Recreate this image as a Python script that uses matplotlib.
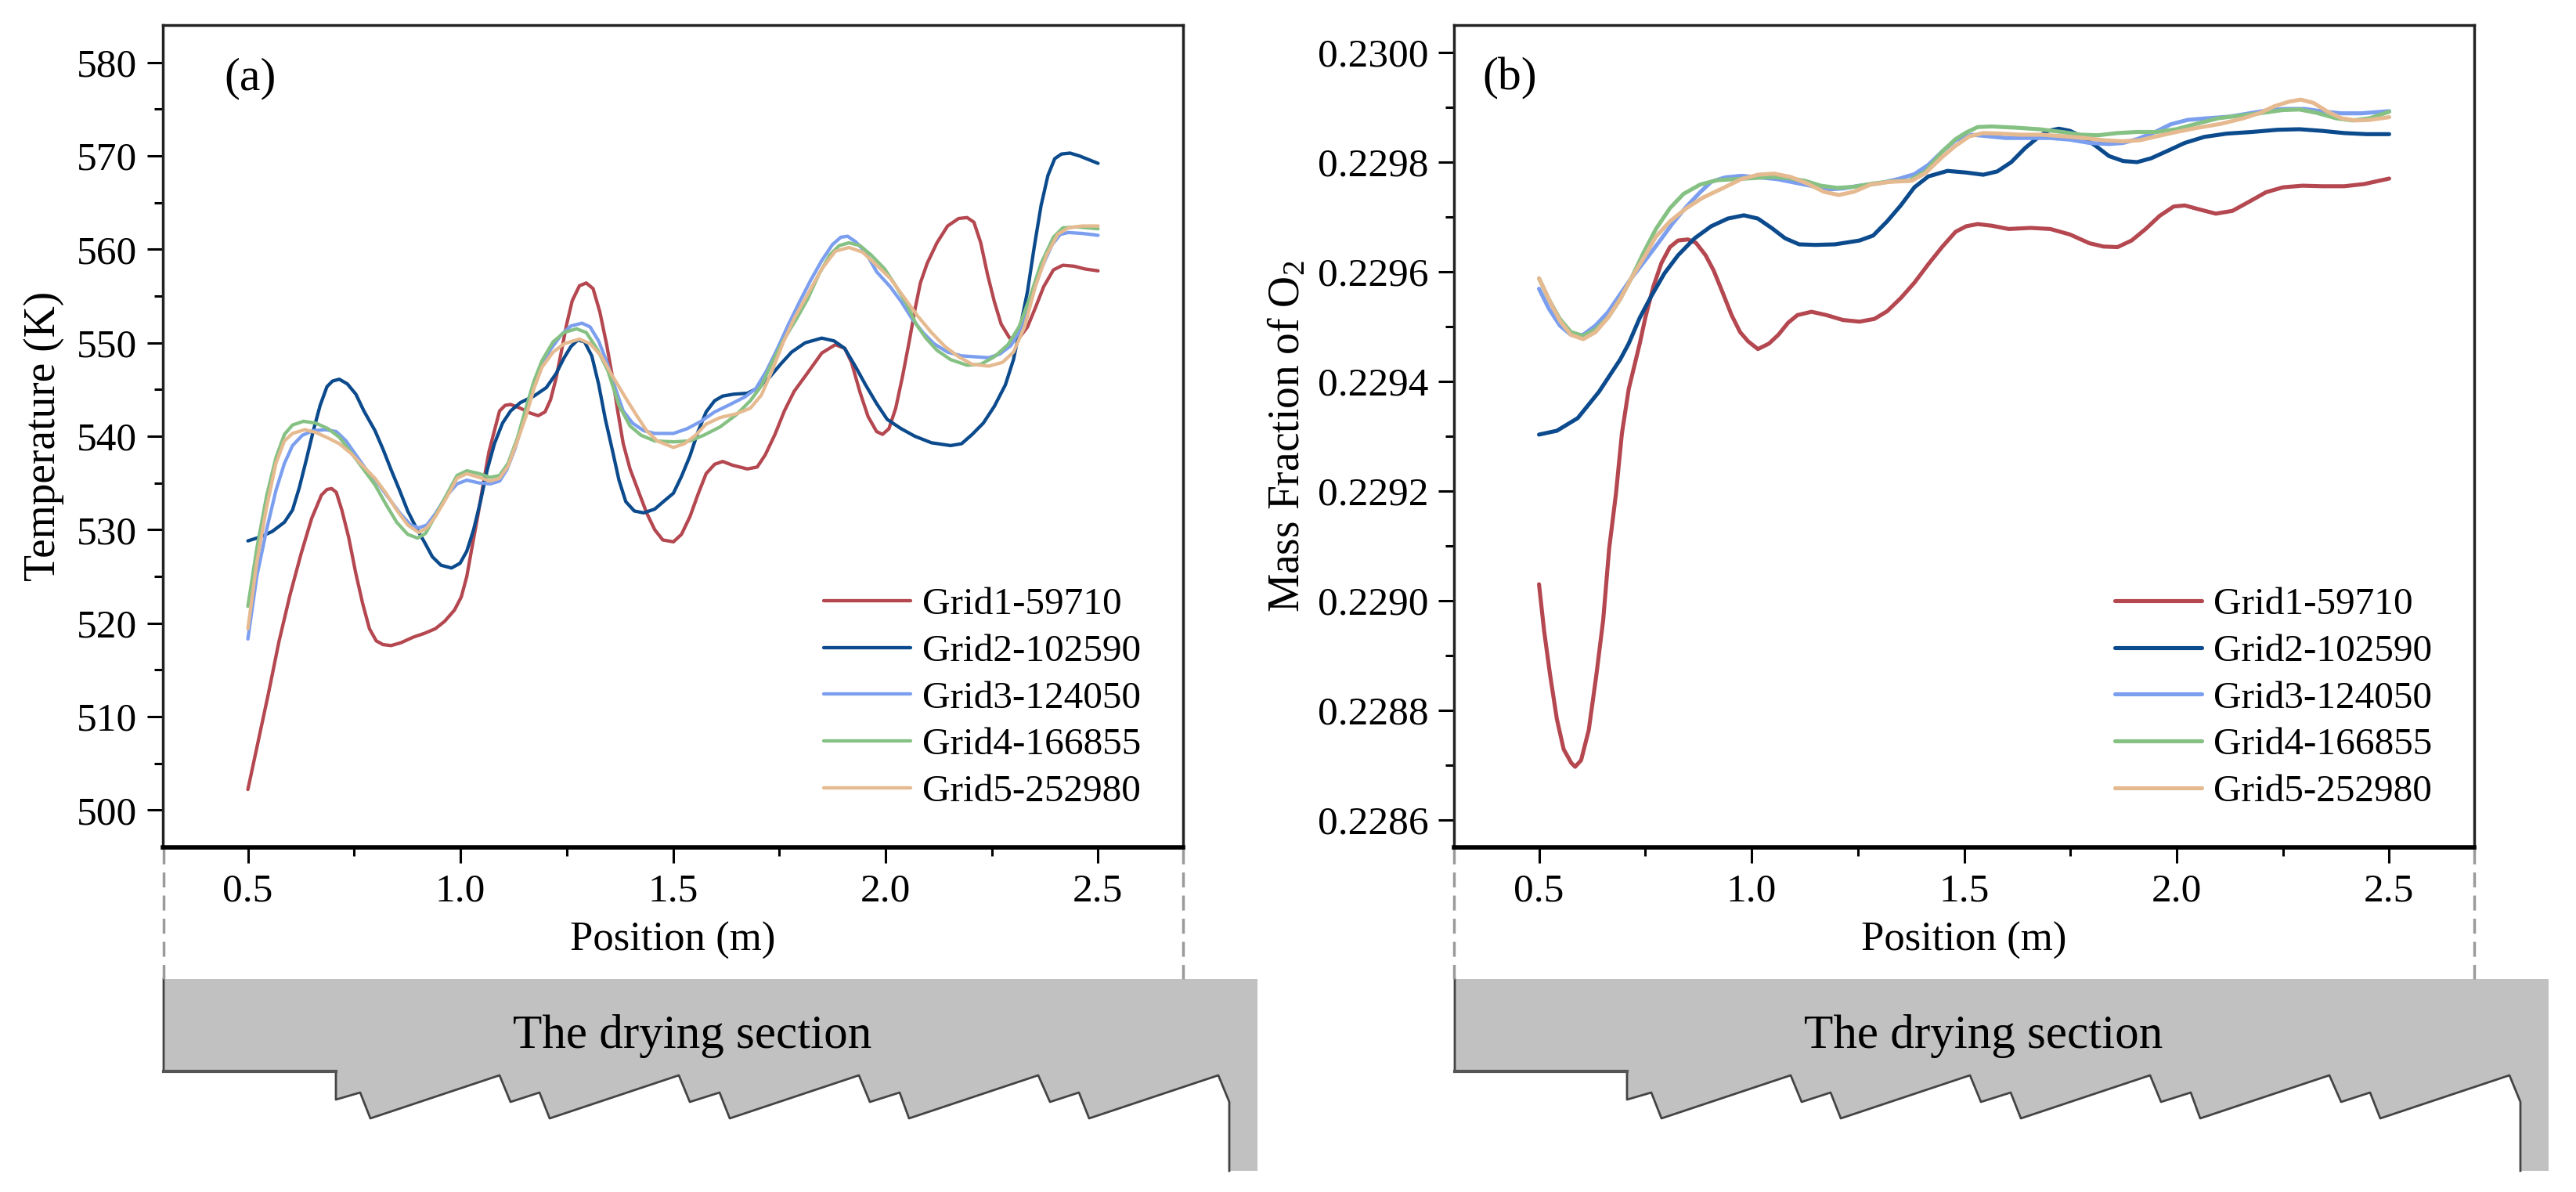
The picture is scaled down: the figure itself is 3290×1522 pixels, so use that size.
import matplotlib
matplotlib.use('Agg')
import matplotlib.pyplot as plt
from matplotlib.patches import Polygon
from matplotlib.ticker import MultipleLocator

plt.rcParams['font.family'] = ['Liberation Serif', 'DejaVu Serif']
plt.rcParams['mathtext.fontset'] = 'custom'
plt.rcParams['mathtext.rm'] = 'Liberation Serif'
plt.rcParams['mathtext.default'] = 'regular'

W, H = 3290, 1522

labels = ['Grid1-59710', 'Grid2-102590', 'Grid3-124050', 'Grid4-166855', 'Grid5-252980']
colors = ['#B4474F', '#0B4A8C', '#7B9EEF', '#86C184', '#E6BA90']

# (a) temperature
x_a1 = [.5, .524, .548, .573, .599, .625, .65, .673, .686, .697, .708, .721, .737, .754, .77, .786, .802, .818, .837, .86, .889, .915, .941, .963, .986, 1.002, 1.015, 1.028, 1.041, 1.054, 1.067, 1.08, 1.092, 1.105, 1.118, 1.141, 1.163, 1.183, 1.199, 1.212, 1.225, 1.238, 1.25, 1.263, 1.28, 1.296, 1.312, 1.328, 1.344, 1.357, 1.37, 1.383, 1.399, 1.418, 1.438, 1.457, 1.476, 1.501,
        1.52, 1.54, 1.559, 1.578, 1.598, 1.617, 1.64, 1.675, 1.698, 1.717, 1.74, 1.762, 1.785, 1.817, 1.85, 1.882, 1.904, 1.92, 1.94, 1.959, 1.979, 1.993, 2.008, 2.024, 2.04, 2.056, 2.069, 2.082, 2.098, 2.121, 2.146, 2.172, 2.192, 2.208, 2.224, 2.24, 2.256, 2.272, 2.292, 2.314, 2.334, 2.353, 2.372, 2.395, 2.417, 2.443, 2.469, 2.5]
t_a1 = [502.2, 507.3, 512.4, 518, 523, 527.4, 531.2, 533.7, 534.3, 534.4, 534, 532.1, 529.2, 525.3, 522.1, 519.4, 518.1, 517.7, 517.6, 517.9, 518.5, 518.9, 519.4, 520.2, 521.4, 522.8, 525, 528.3, 531.5, 535, 538.3, 540.6, 542.7, 543.3, 543.4, 543, 542.5, 542.2, 542.6, 543.9, 546.2, 549.2, 552, 554.5, 556.1, 556.4, 555.8, 553.3, 549.8, 546.5, 542.7, 539.2, 536.5, 534.2, 531.8, 530, 528.9, 528.7,
        529.5, 531.4, 533.8, 536, 537, 537.3, 536.9, 536.5, 536.7, 538, 540.2, 542.7, 544.8, 546.8, 548.9, 549.8, 549.4, 547.9, 544.7, 542.1, 540.5, 540.2, 540.8, 543, 546.4, 550.2, 553.5, 556.4, 558.5, 560.7, 562.5, 563.3, 563.4, 562.9, 560.7, 557.3, 554.4, 552, 550.5, 550.5, 551.7, 553.8, 556, 557.8, 558.3, 558.2, 557.9, 557.7]
x_a2 = [.5, .528, .557, .586, .605, .621, .637, .654, .67, .686, .699, .715, .734, .754, .773, .799, .818, .837, .857, .876, .896, .915, .934, .954, .979, .999, 1.015, 1.031, 1.047, 1.063, 1.08, 1.099, 1.118, 1.141, 1.173, 1.202, 1.225, 1.244, 1.26, 1.276, 1.292, 1.309, 1.325, 1.341, 1.357, 1.373, 1.389, 1.409, 1.431, 1.457, 1.48, 1.501,
        1.52, 1.54, 1.559, 1.578, 1.598, 1.617, 1.643, 1.675, 1.701, 1.727, 1.753, 1.779, 1.811, 1.85, 1.879, 1.904, 1.93, 1.953, 1.979, 2.004, 2.037, 2.069, 2.108, 2.153, 2.179, 2.204, 2.23, 2.256, 2.282, 2.301, 2.317, 2.334, 2.35, 2.366, 2.382, 2.398, 2.414, 2.434, 2.456, 2.5]
t_a2 = [528.8, 529.2, 529.8, 530.8, 532.1, 534.5, 537.4, 540.6, 543.3, 545.3, 545.9, 546.1, 545.6, 544.5, 542.7, 540.6, 538.6, 536.4, 534.2, 532, 530.2, 528.7, 527.1, 526.2, 525.9, 526.4, 527.7, 530, 533, 536.4, 539.2, 541.4, 542.7, 543.6, 544.3, 545.2, 546.7, 548.4, 549.6, 550.3, 550.1, 548.6, 545.6, 541.8, 538.6, 535.3, 533, 532, 531.8, 532.2, 533.1, 533.9,
        535.7, 537.9, 540.5, 542.6, 543.8, 544.3, 544.5, 544.6, 545.2, 546.3, 547.7, 549, 550, 550.5, 550.2, 549.4, 547.4, 545.5, 543.5, 541.8, 540.8, 540, 539.3, 539, 539.2, 540.2, 541.4, 543.2, 545.5, 548.2, 551.7, 555.5, 560.3, 564.7, 567.9, 569.7, 570.2, 570.3, 570, 569.2]
x_a3 = [.5, .521, .544, .566, .586, .605, .628, .654, .683, .708, .731, .754, .779, .805, .831, .857, .883, .902, .921, .941, .967, .992, 1.015, 1.044, 1.07, 1.092, 1.109, 1.128, 1.147, 1.167, 1.186, 1.212, 1.238, 1.26, 1.286, 1.305, 1.325, 1.344, 1.363, 1.383, 1.405, 1.431, 1.457, 1.501,
        1.533, 1.566, 1.598, 1.63, 1.669, 1.695, 1.72, 1.746, 1.772, 1.798, 1.824, 1.85, 1.875, 1.895, 1.911, 1.93, 1.953, 1.979, 2.011, 2.037, 2.062, 2.088, 2.114, 2.146, 2.179, 2.211, 2.243, 2.269, 2.295, 2.317, 2.34, 2.366, 2.392, 2.411, 2.43, 2.463, 2.5]
t_a3 = [518.3, 525, 530, 534.2, 537.1, 539, 540.1, 540.6, 540.7, 540.5, 539.5, 538, 536.4, 535, 533.4, 531.8, 530.5, 530.2, 530.5, 531.7, 533.6, 534.9, 535.3, 535, 534.9, 535.2, 536.4, 538.6, 541.5, 544.5, 547.1, 549.3, 550.9, 551.8, 552.1, 551.7, 550.2, 548, 545.3, 542.7, 541.4, 540.6, 540.3, 540.3,
        540.8, 541.6, 542.6, 543.3, 544.2, 545.1, 547, 549.4, 552, 554.4, 556.7, 558.8, 560.5, 561.3, 561.4, 560.8, 559.7, 557.6, 556, 554.4, 552.6, 551.1, 549.9, 549, 548.6, 548.5, 548.4, 548.8, 549.7, 551.4, 554.4, 557.9, 560.5, 561.6, 561.8, 561.7, 561.5]
x_a4 = [.5, .521, .544, .566, .586, .605, .631, .66, .689, .715, .747, .773, .799, .825, .85, .876, .899, .918, .941, .967, .992, 1.015, 1.044, 1.07, 1.092, 1.112, 1.134, 1.154, 1.173, 1.192, 1.218, 1.244, 1.273, 1.296, 1.322, 1.347, 1.373, 1.399, 1.425, 1.457, 1.501,
        1.54, 1.572, 1.611, 1.649, 1.682, 1.708, 1.733, 1.759, 1.791, 1.817, 1.843, 1.869, 1.891, 1.914, 1.94, 1.966, 1.998, 2.024, 2.05, 2.072, 2.095, 2.121, 2.153, 2.192, 2.224, 2.256, 2.288, 2.314, 2.34, 2.366, 2.395, 2.417, 2.45, 2.5]
t_a4 = [521.8, 528, 533.6, 537.7, 540.2, 541.2, 541.6, 541.4, 540.8, 539.9, 538, 536.4, 534.8, 532.7, 530.8, 529.5, 529.1, 529.6, 531.5, 533.7, 535.8, 536.3, 536, 535.6, 535.8, 537.1, 539.8, 543, 545.9, 548.1, 550.1, 551.1, 551.5, 551.1, 549.3, 547, 543.3, 541.1, 540.1, 539.5, 539.4,
        539.5, 540.1, 541, 542.3, 543.8, 545.4, 547.9, 550.2, 552.6, 554.7, 557.3, 559.4, 560.4, 560.7, 560.4, 559.4, 557.9, 556.1, 554.1, 552, 550.5, 549.2, 548.2, 547.6, 547.7, 548.5, 549.8, 551.7, 554.9, 558.5, 561.3, 562.3, 562.4, 562.2]
x_a5 = [.5, .521, .544, .566, .586, .605, .634, .66, .689, .715, .744, .773, .799, .825, .85, .876, .902, .921, .941, .967, .992, 1.015, 1.044, 1.07, 1.092, 1.112, 1.134, 1.154, 1.173, 1.192, 1.218, 1.244, 1.28, 1.305, 1.331, 1.357, 1.386, 1.412, 1.438, 1.463, 1.501,
        1.527, 1.553, 1.578, 1.611, 1.649, 1.682, 1.708, 1.733, 1.759, 1.785, 1.817, 1.85, 1.882, 1.914, 1.946, 1.979, 2.011, 2.043, 2.075, 2.108, 2.14, 2.172, 2.204, 2.243, 2.275, 2.301, 2.327, 2.353, 2.379, 2.405, 2.43, 2.463, 2.5]
t_a5 = [519.4, 526.5, 532.4, 537.1, 539.5, 540.3, 540.7, 540.4, 539.8, 539.2, 538.1, 536.7, 535.5, 533.9, 532.1, 530.5, 529.7, 530.2, 531.4, 533.4, 535.5, 536, 535.6, 535.2, 535.5, 536.8, 539.5, 542.1, 545.1, 547.4, 549, 549.9, 550.4, 549.9, 548.6, 546.5, 544.3, 542.4, 540.6, 539.5, 538.8,
        539.2, 540.1, 541.3, 542, 542.4, 543, 544.4, 547, 550, 552.6, 555.2, 557.9, 559.8, 560.2, 559.7, 558.3, 556.9, 554.9, 552.9, 551.1, 549.6, 548.5, 547.7, 547.5, 547.9, 549, 551.7, 556.1, 559.4, 561.6, 562.3, 562.5, 562.5]

# (b) O2 mass fraction
x_b1 = [.5, .512, .526, .542, .558, .576, .585, .599, .617, .635, .651, .665, .681, .695, .711, .737, .75, .769, .788, .808, .827, .85, .869, .892, .911, .931, .953, .973, .992, 1.015, 1.041, 1.063, 1.086, 1.108, 1.141, 1.176, 1.215, 1.254, 1.289, 1.319, 1.351, 1.383, 1.416, 1.448, 1.48, 1.505,
        1.532, 1.565, 1.605, 1.657, 1.703, 1.749, 1.795, 1.828, 1.861, 1.894, 1.927, 1.96, 1.993, 2.019, 2.052, 2.092, 2.131, 2.171, 2.21, 2.25, 2.296, 2.342, 2.394, 2.441, 2.5]
m_b1 = [.22903, .228945, .228865, .228784, .228729, .228704, .228697, .228709, .228764, .228865, .228965, .229095, .229195, .229305, .229386, .229469, .229516, .229573, .229616, .229645, .229657, .229659, .229653, .22963, .229602, .229564, .229521, .22949, .229473, .229459, .229469, .229485, .229507, .229521, .229527, .229521, .229512, .229509, .229514, .229528, .229552, .22958, .229614, .229645, .229673, .229683,
        .229687, .229684, .229678, .22968, .229678, .229668, .229652, .229646, .229645, .229657, .229678, .229702, .229719, .229721, .229714, .229706, .229711, .229728, .229745, .229754, .229757, .229756, .229756, .22976, .22977]
x_b2 = [.5, .542, .591, .641, .691, .711, .737, .763, .795, .827, .866, .905, .944, .982, 1.015, 1.047, 1.079, 1.112, 1.15, 1.196, 1.254, 1.286, 1.319, 1.351, 1.383, 1.416, 1.461, 1.505,
        1.545, 1.578, 1.611, 1.644, 1.677, 1.697, 1.723, 1.749, 1.776, 1.809, 1.841, 1.874, 1.907, 1.94, 1.98, 2.019, 2.065, 2.118, 2.177, 2.237, 2.289, 2.342, 2.394, 2.447, 2.5]
m_b2 = [.229303, .22931, .229333, .229381, .22944, .229469, .229516, .229554, .229597, .22963, .229661, .229683, .229697, .229703, .229697, .22968, .229661, .22965, .229649, .22965, .229657, .229666, .229692, .229721, .229754, .229774, .229784, .229781,
        .229777, .229783, .2298, .229826, .229847, .229857, .229861, .229857, .229847, .22983, .229811, .229802, .2298, .229807, .229821, .229835, .229846, .229852, .229855, .229859, .22986, .229857, .229853, .229851, .229851]
x_b3 = [.5, .523, .549, .575, .604, .633, .662, .691, .717, .75, .782, .814, .847, .879, .905, .937, .976, 1.021, 1.06, 1.099, 1.138, 1.176, 1.215, 1.254, 1.299, 1.344, 1.383, 1.416, 1.448, 1.48, 1.505,
        1.519, 1.558, 1.598, 1.651, 1.703, 1.749, 1.795, 1.841, 1.874, 1.907, 1.947, 1.986, 2.026, 2.072, 2.125, 2.171, 2.217, 2.256, 2.302, 2.348, 2.388, 2.434, 2.5]
m_b3 = [.229569, .229533, .229502, .229485, .229485, .229502, .229526, .229559, .229588, .229621, .229654, .229688, .229719, .229745, .229764, .229772, .229775, .229772, .229769, .229763, .229757, .22975, .229752, .229757, .229761, .229769, .229778, .229795, .229819, .22984, .229847,
        .22985, .229847, .229844, .229844, .229844, .229841, .229835, .229833, .229835, .229842, .229854, .229869, .229877, .22988, .229883, .229889, .229895, .229897, .229897, .229892, .229889, .229889, .229893]
x_b4 = [.5, .523, .549, .575, .604, .633, .662, .691, .717, .746, .775, .808, .84, .879, .918, .963, 1.008, 1.047, 1.086, 1.125, 1.163, 1.202, 1.241, 1.286, 1.332, 1.37, 1.409, 1.448, 1.48, 1.505,
        1.532, 1.565, 1.618, 1.677, 1.73, 1.776, 1.815, 1.861, 1.907, 1.953, 1.999, 2.052, 2.098, 2.151, 2.204, 2.25, 2.289, 2.329, 2.375, 2.414, 2.454, 2.5]
m_b4 = [.229588, .22955, .229514, .22949, .229483, .229495, .229516, .22955, .229588, .229635, .229678, .229716, .229742, .229759, .229767, .229769, .229771, .229773, .229771, .229766, .229757, .229753, .229755, .229761, .229765, .229766, .229783, .229819, .229842, .229854,
        .229864, .229865, .229863, .22986, .229855, .22985, .229849, .229853, .229855, .229855, .22986, .229871, .22988, .229885, .22989, .229895, .229896, .22989, .22988, .229876, .22988, .229892]
x_b5 = [.5, .523, .549, .575, .604, .633, .662, .691, .717, .75, .775, .808, .847, .885, .931, .976, 1.015, 1.053, 1.092, 1.131, 1.17, 1.205, 1.241, 1.28, 1.325, 1.377, 1.409, 1.448, 1.48, 1.486,
        1.512, 1.545, 1.585, 1.631, 1.683, 1.736, 1.782, 1.828, 1.874, 1.914, 1.953, 1.999, 2.052, 2.105, 2.157, 2.197, 2.23, 2.263, 2.292, 2.322, 2.355, 2.388, 2.421, 2.454, 2.5]
m_b5 = [.229588, .22955, .229511, .229485, .229477, .22949, .229516, .22955, .229588, .22963, .229664, .229692, .229716, .229735, .229752, .229769, .229777, .229779, .229773, .229761, .229746, .22974, .229746, .229759, .229764, .229766, .22978, .229809, .22983, .229833,
        .229847, .229853, .229852, .22985, .22985, .229847, .229844, .22984, .229838, .22984, .229847, .229855, .229863, .22987, .22988, .22989, .229902, .22991, .229914, .229908, .229892, .22988, .229876, .229877, .229882]

# furnace wall outline, pixels measured from the left end of the drawing
wall_x = [0, 0, 220, 220, 251, 264, 429, 443, 480, 493, 658, 672, 710, 723, 888, 902, 940, 952, 1117, 1132, 1169, 1182, 1347, 1361, 1361]
wall_y = [1250, 1368, 1368, 1404, 1395, 1428, 1373, 1407, 1395, 1428, 1373, 1407, 1395, 1428, 1373, 1407, 1395, 1428, 1373, 1407, 1395, 1428, 1373, 1407, 1495]
wall_w = 1397


def px_axes(l, t, r, b):
    return fig.add_axes([l / W, 1 - b / H, (r - l) / W, (b - t) / H])


def style(ax, ylabel, tag, tag_x, label_x):
    for s in ax.spines.values():
        s.set_linewidth(2.5)
        s.set_color('#222222')
    ax.spines['bottom'].set_linewidth(4)
    ax.spines['bottom'].set_color('black')
    ax.tick_params(which='major', length=14.5, width=2.2, labelsize=37, pad=9)
    ax.tick_params(which='minor', length=8, width=2.2)
    ax.set_xlim(0.3, 2.7)
    ax.set_xticks([0.5, 1.0, 1.5, 2.0, 2.5])
    ax.set_xticklabels(['0.5', '1.0', '1.5', '2.0', '2.5'])
    ax.xaxis.set_minor_locator(MultipleLocator(0.25))
    ax.set_xlabel('Position (m)', fontsize=38, labelpad=11)
    ax.set_ylabel(ylabel, fontsize=40)
    ax.yaxis.set_label_coords(label_x, 0.5)
    ax.text(tag_x, 0.935, tag, transform=ax.transAxes, fontsize=43, ha='center', va='center')
    ax.legend(loc='lower right', bbox_to_anchor=(0.972, 0.03), frameon=False, fontsize=35.5,
              handlelength=2.25, handletextpad=0.3, labelspacing=0.31, borderpad=0.35, borderaxespad=0.0)


fig = plt.figure(figsize=(W / 100, H / 100), dpi=100)

# underlay in pixel coordinates for the wall drawings and guide lines
bg = fig.add_axes([0, 0, 1, 1])
bg.set_xlim(0, W)
bg.set_ylim(H, 0)
bg.axis('off')
for x0, guide in ((209, (209, 1511)), (1858, (1857, 3160))):
    xs = [x0 + v for v in wall_x] + [x0 + wall_w, x0 + wall_w]
    ys = wall_y + [1495, 1250]
    bg.add_patch(Polygon(list(zip(xs, ys)), closed=True, fc='#C1C1C1', ec='none'))
    bg.plot([x0 + v for v in wall_x], wall_y, color='#444444', lw=2)
    bg.plot([x0 + v for v in wall_x[1:3]], wall_y[1:3], color='#555555', lw=3)
    for gx in guide:
        bg.plot([gx, gx], [1084, 1250], color='#9A9A9A', lw=2.5, ls=(0, (5.5, 3)))
    bg.text(x0 + 675, 1323, 'The drying section', fontsize=44, ha='center', va='center')

ax1 = px_axes(208, 32, 1511, 1082)
ax1.patch.set_alpha(0)
for xs, ys, lab, c in zip((x_a1, x_a2, x_a3, x_a4, x_a5), (t_a1, t_a2, t_a3, t_a4, t_a5), labels, colors):
    ax1.plot(xs, ys, color=c, lw=3.1, label=lab, solid_capstyle='round')
ax1.set_ylim(496, 584)
ax1.yaxis.set_major_locator(MultipleLocator(10))
ax1.yaxis.set_minor_locator(MultipleLocator(5))
style(ax1, 'Temperature (K)', '(a)', 0.0855, -0.097)

ax2 = px_axes(1857, 32, 3160, 1082)
ax2.patch.set_alpha(0)
for xs, ys, lab, c in zip((x_b1, x_b2, x_b3, x_b4, x_b5), (m_b1, m_b2, m_b3, m_b4, m_b5), labels, colors):
    ax2.plot(xs, ys, color=c, lw=3.7, label=lab, solid_capstyle='round')
ax2.set_ylim(0.22855, 0.23005)
ax2.set_yticks([0.2286, 0.2288, 0.2290, 0.2292, 0.2294, 0.2296, 0.2298, 0.2300])
ax2.set_yticklabels(['0.2286', '0.2288', '0.2290', '0.2292', '0.2294', '0.2296', '0.2298', '0.2300'])
ax2.yaxis.set_minor_locator(MultipleLocator(0.0001))
style(ax2, 'Mass Fraction of O$_2$', '(b)', 0.0545, -0.1425)

fig.savefig('out.png', dpi=100)
